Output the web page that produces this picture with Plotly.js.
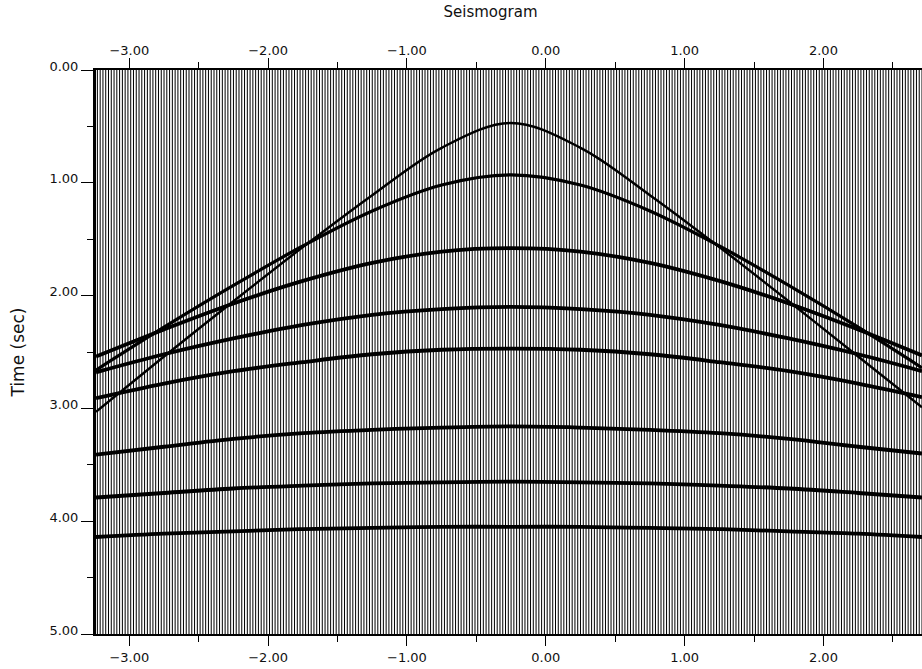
<!DOCTYPE html>
<html>
<head>
<meta charset="utf-8">
<script src="https://cdn.plot.ly/plotly-3.0.1.min.js"></script>
<style>html,body{margin:0;padding:0;background:#fff;}#chart{width:922px;height:669px;}</style>
</head>
<body>
<div id="chart"></div>
<script>
// Receiver offsets (trace positions) — acquisition geometry
var firstOffset = -3.25;
var lastOffset = 3.25;
var traceSpacing = 0.02;
var timeStart = 0.0;
var timeEnd = 5.0;

var sampleX = [-3.24, -2.75, -2.25, -1.75, -1.25, -0.75, -0.25, 0.25, 0.75, 1.25, 1.75, 2.25, 2.71];

// Reflection event times (sec) read at sampleX
var eventA = [3.03, 2.54, 2.05, 1.57, 1.11, 0.69, 0.47, 0.69, 1.11, 1.57, 2.05, 2.54, 2.99];
var eventB = [2.66, 2.28, 1.91, 1.56, 1.25, 1.02, 0.93, 1.02, 1.25, 1.56, 1.91, 2.28, 2.64];
var eventC = [2.54, 2.30, 2.07, 1.87, 1.71, 1.61, 1.58, 1.61, 1.71, 1.87, 2.07, 2.30, 2.53];
var eventD = [2.68, 2.52, 2.38, 2.26, 2.17, 2.12, 2.10, 2.12, 2.17, 2.26, 2.38, 2.52, 2.67];
var eventE = [2.91, 2.78, 2.67, 2.59, 2.52, 2.48, 2.47, 2.48, 2.52, 2.59, 2.67, 2.78, 2.90];
var eventF = [3.41, 3.34, 3.27, 3.22, 3.19, 3.17, 3.16, 3.17, 3.19, 3.22, 3.27, 3.34, 3.40];
var eventG = [3.79, 3.75, 3.71, 3.685, 3.665, 3.655, 3.65, 3.655, 3.665, 3.685, 3.71, 3.75, 3.79];
var eventH = [4.14, 4.11, 4.09, 4.07, 4.06, 4.05, 4.05, 4.05, 4.06, 4.07, 4.09, 4.11, 4.14];

var xTickVals = [-3, -2, -1, 0, 1, 2, 3];
var yTickVals = [0, 1, 2, 3, 4, 5];

// Build vertical trace lines
var offsets = [];
var nTraces = Math.round((lastOffset - firstOffset) / traceSpacing);
for (var i = 0; i <= nTraces; i++) offsets.push(firstOffset + i * traceSpacing);
var tx = [], ty = [];
offsets.forEach(function (o) { tx.push(o, o, null); ty.push(timeStart, timeEnd, null); });

var data = [{
  x: tx, y: ty, type: 'scatter', mode: 'lines',
  line: {color: '#000', width: 1.0}, hoverinfo: 'skip', showlegend: false
}];

var events = [eventA, eventB, eventC, eventD, eventE, eventF, eventG, eventH];
var widths = [2.4, 3.2, 3.8, 3.8, 3.8, 3.8, 3.8, 3.8];
events.forEach(function (ev, k) {
  data.push({
    x: sampleX, y: ev, type: 'scatter', mode: 'lines',
    line: {color: '#000', width: widths[k], shape: 'spline', smoothing: 1.0},
    hoverinfo: 'skip', showlegend: false
  });
});
// invisible trace to activate top axis
data.push({x: [xTickVals[0]], y: [timeStart], xaxis: 'x2', yaxis: 'y', mode: 'markers',
  marker: {opacity: 0}, hoverinfo: 'skip', showlegend: false});

var tickFont = {family: 'DejaVu Sans, sans-serif', size: 13, color: '#111'};
var xRange = [-3.24, 2.71];

var layout = {
  width: 922, height: 669,
  margin: {l: 96, r: 0, t: 70, b: 35},
  paper_bgcolor: '#fff', plot_bgcolor: '#fff',
  showlegend: false,
  title: {text: 'Seismogram', font: {family: 'DejaVu Sans, sans-serif', size: 15, color: '#111'},
          x: 0.532, xanchor: 'center', y: 0.99, yanchor: 'top'},
  xaxis: {
    range: xRange, tickvals: xTickVals, tickformat: '.2f', ticks: 'outside', ticklen: 10,
    tickwidth: 1, tickcolor: '#000', showgrid: false, zeroline: false,
    showline: true, linecolor: '#000', linewidth: 2, tickfont: tickFont,
    minor: {dtick: 0.5, tick0: 0.5, ticks: 'outside', ticklen: 6, tickcolor: '#000', showgrid: false}
  },
  xaxis2: {
    range: xRange, tickvals: xTickVals, tickformat: '.2f', ticks: 'outside', ticklen: 10,
    tickwidth: 1, tickcolor: '#000', showgrid: false, zeroline: false,
    overlaying: 'x', side: 'top', anchor: 'y', ticklabelstandoff: -2,
    showline: true, linecolor: '#000', linewidth: 2, tickfont: tickFont,
    minor: {dtick: 0.5, tick0: 0.5, ticks: 'outside', ticklen: 6, tickcolor: '#000', showgrid: false}
  },
  yaxis: {
    range: [timeEnd, timeStart], tickvals: yTickVals, tickformat: '.2f', ticks: 'outside', ticklen: 12,
    tickwidth: 1, tickcolor: '#000', showgrid: false, zeroline: false, ticklabelshift: 4,
    showline: true, linecolor: '#000', linewidth: 3, tickfont: tickFont,
    title: {text: 'Time (sec)', font: {family: 'DejaVu Sans, sans-serif', size: 17, color: '#111'}, standoff: 21},
    minor: {dtick: 0.5, tick0: 0.5, ticks: 'outside', ticklen: 6, tickcolor: '#000', showgrid: false}
  }
};

Plotly.newPlot('chart', data, layout, {displayModeBar: false, staticPlot: true});
</script>
</body>
</html>
